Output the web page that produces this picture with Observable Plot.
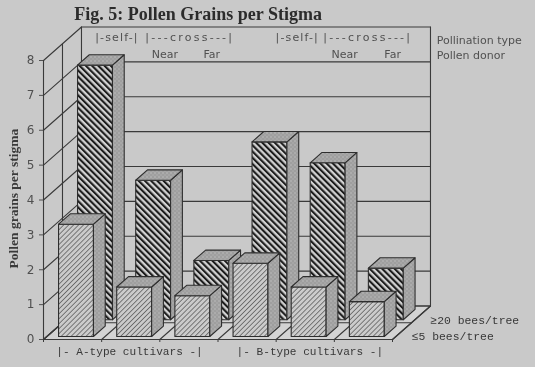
<!DOCTYPE html>
<html><head><meta charset="utf-8">
<script src="https://cdn.jsdelivr.net/npm/d3@7"></script>
<script src="https://cdn.jsdelivr.net/npm/@observablehq/plot@0.6"></script>
<style>html,body{margin:0;padding:0;background:#c9c9c9}svg{display:block}.wide text{letter-spacing:2.25px}.wide1 text{letter-spacing:1.15px}</style>
</head><body><div id="c"></div>
<script>
const cultivars = ["A1","A2","A3","B1","B2","B3"];
const highBees = [7.3,4.0,1.7,5.1,4.5,1.48];
const lowBees  = [3.22,1.42,1.17,2.1,1.42,1.0];
const yTicks = [0,1,2,3,4,5,6,7,8];
const xTicks = [0,1,2,3,4,5,6];
const title = "Fig. 5: Pollen Grains per Stigma";
const yLabel = "Pollen grains per stigma";
const typeLabels = ["|-self-|","|---cross---|"];
const donorLabels = ["Near","Far"];
const rightLabels = ["Pollination type","Pollen donor"];
const groupLabels = ["|- A-type cultivars -|","|- B-type cultivars -|"];
const rowLabels = ["≥20 bees/tree","≤5 bees/tree"];

// oblique projection: depth 0..1 is added to category and value
const DX = 0.653, DY = 0.96;
const px = r => r.c + r.d*DX;
const py = r => r.v + r.d*DY;
const poly = (id, pts) => [...pts, pts[0]].map(([c,d,v]) => ({id,c,d,v}));

function bar(id, i, v, d0, d1){
  const a=i+0.2, b=i+0.8;
  return {
    front: poly(id+"f",[[a,d0,0],[b,d0,0],[b,d0,v],[a,d0,v]]),
    side: poly(id+"s",[[b,d0,0],[b,d1,0],[b,d1,v],[b,d0,v]]),
    top: poly(id+"t",[[a,d0,v],[b,d0,v],[b,d1,v],[a,d1,v]])
  };
}
const backBars = cultivars.map((n,i)=>bar("b"+n,i,highBees[i],0.59,0.9));
const frontBars = cultivars.map((n,i)=>bar("l"+n,i,lowBees[i],0.09,0.4));
const faces = (bars,k)=>bars.flatMap(b=>b[k]);

const floor = poly("floor",[[0,0,0],[6,0,0],[6,1,0],[0,1,0]]);
const wall = [
  ...yTicks.map(v=>[{id:"g"+v,c:0,d:1,v},{id:"g"+v,c:6,d:1,v}]).flat(),
  ...yTicks.map(v=>[{id:"l"+v,c:0,d:0,v},{id:"l"+v,c:0,d:1,v}]).flat(),
  ...xTicks.map(c=>[{id:"f"+c,c,d:0,v:0},{id:"f"+c,c,d:1,v:0}]).flat(),
  {id:"mid",c:0,d:0.5,v:8},{id:"mid",c:0,d:0.5,v:0},
  {id:"mf",c:0,d:0.5,v:0},{id:"mf",c:6,d:0.5,v:0},
  {id:"fr",c:0,d:0,v:0},{id:"fr",c:6,d:0,v:0},
  {id:"ax",c:0,d:0,v:0},{id:"ax",c:0,d:0,v:8},
  {id:"bl",c:0,d:1,v:0},{id:"bl",c:0,d:1,v:8},
  {id:"br",c:6,d:1,v:0},{id:"br",c:6,d:1,v:8}
];

function defs(){
  const s = d3.create("svg:defs");
  const hatch=(id,p,rot,w,col,bg)=>{
    const e=s.append("pattern").attr("id",id).attr("patternUnits","userSpaceOnUse")
      .attr("width",p).attr("height",p).attr("patternTransform",`rotate(${rot})`);
    e.append("rect").attr("width",p).attr("height",p).attr("fill",bg);
    e.append("rect").attr("width",w).attr("height",p).attr("fill",col);
  };
  hatch("hBack",4.4,-45,2.1,"#1c1c1c","#d2d2d2");
  hatch("hFront",3.5,45,0.75,"#5a5a5a","#cbcbcb");
  const st=s.append("pattern").attr("id","stip").attr("patternUnits","userSpaceOnUse").attr("width",4).attr("height",4);
  st.append("rect").attr("width",4).attr("height",4).attr("fill","#a6a6a6");
  st.append("rect").attr("x",0).attr("y",0).attr("width",1).attr("height",1).attr("fill","#858585");
  st.append("rect").attr("x",2).attr("y",2).attr("width",1).attr("height",1).attr("fill","#8a8a8a");
  st.append("rect").attr("x",2).attr("y",0).attr("width",1).attr("height",1).attr("fill","#bcbcbc");
  return s.node();
}

const ink="#3a3a3a", txt="#505050";
const faceMark=(data,fill)=>Plot.line(data,{x:px,y:py,z:"id",fill,stroke:"#2e2e2e",strokeWidth:1.1,strokeLinejoin:"round"});
const sans='"DejaVu Sans"', mono='"Liberation Mono"', serif='"Liberation Serif"';
const label=(t,x,y,o={})=>Plot.text([t],{x,y,text:d=>d,textAnchor:"start",fill:txt,fontFamily:sans,fontSize:11,...o});

const chart = Plot.plot({
  width:535,height:367,
  marginLeft:43,marginRight:143,marginTop:60,marginBottom:28,
  x:{domain:[0,6]},y:{domain:[0,8]},
  style:{background:"#c9c9c9",filter:"blur(0.45px)"},
  marks:[
    defs,
    faceMark(floor,"#d3d3d3"),
    Plot.line(wall,{x:px,y:py,z:"id",stroke:ink,strokeWidth:1.1}),
    faceMark(faces(backBars,"front"),"url(#hBack)"),
    faceMark(faces(backBars,"side"),"url(#stip)"),
    faceMark(faces(backBars,"top"),"url(#stip)"),
    faceMark(faces(frontBars,"front"),"url(#hFront)"),
    faceMark(faces(frontBars,"side"),"url(#stip)"),
    faceMark(faces(frontBars,"top"),"url(#stip)"),
    Plot.axisY({ticks:yTicks,tickSize:4,tickPadding:5,label:null,fontSize:12,fontFamily:sans,color:txt,tickFormat:d3.format("d")}),
    Plot.axisX({ticks:xTicks,tickSize:3,label:null,tickFormat:()=>"",color:ink}),
    label(title,0.53,9.32,{fontFamily:serif,fontWeight:"bold",fontSize:18,fill:"#2c2c2c"}),
    label(typeLabels[0],0.89,8.66,{className:"wide1"}),
    label(typeLabels[1],1.75,8.66,{className:"wide"}),
    label(typeLabels[0],3.99,8.66,{className:"wide1"}),
    label(typeLabels[1],4.81,8.66,{className:"wide"}),
    label(donorLabels[0],1.86,8.18),
    label(donorLabels[1],2.75,8.18),
    label(donorLabels[0],4.95,8.18),
    label(donorLabels[1],5.86,8.18),
    label(rightLabels[0],6.76,8.57),
    label(rightLabels[1],6.76,8.14),
    Plot.text([yLabel],{x:-0.52,y:4.04,text:d=>d,rotate:-90,fontFamily:serif,fontWeight:"bold",fontSize:13.5,fill:"#3a3a3a"}),
    label(groupLabels[0],0.22,-0.34,{fontFamily:mono,fill:"#383838",fontSize:11.1}),
    label(groupLabels[1],3.32,-0.34,{fontFamily:mono,fill:"#383838",fontSize:11.1}),
    label(rowLabels[0],6.65,0.54,{fontFamily:mono,fill:"#383838",fontSize:11.4}),
    label(rowLabels[1],6.33,0.08,{fontFamily:mono,fill:"#383838",fontSize:11.4})
  ]
});
document.getElementById("c").append(chart);
</script></body></html>
